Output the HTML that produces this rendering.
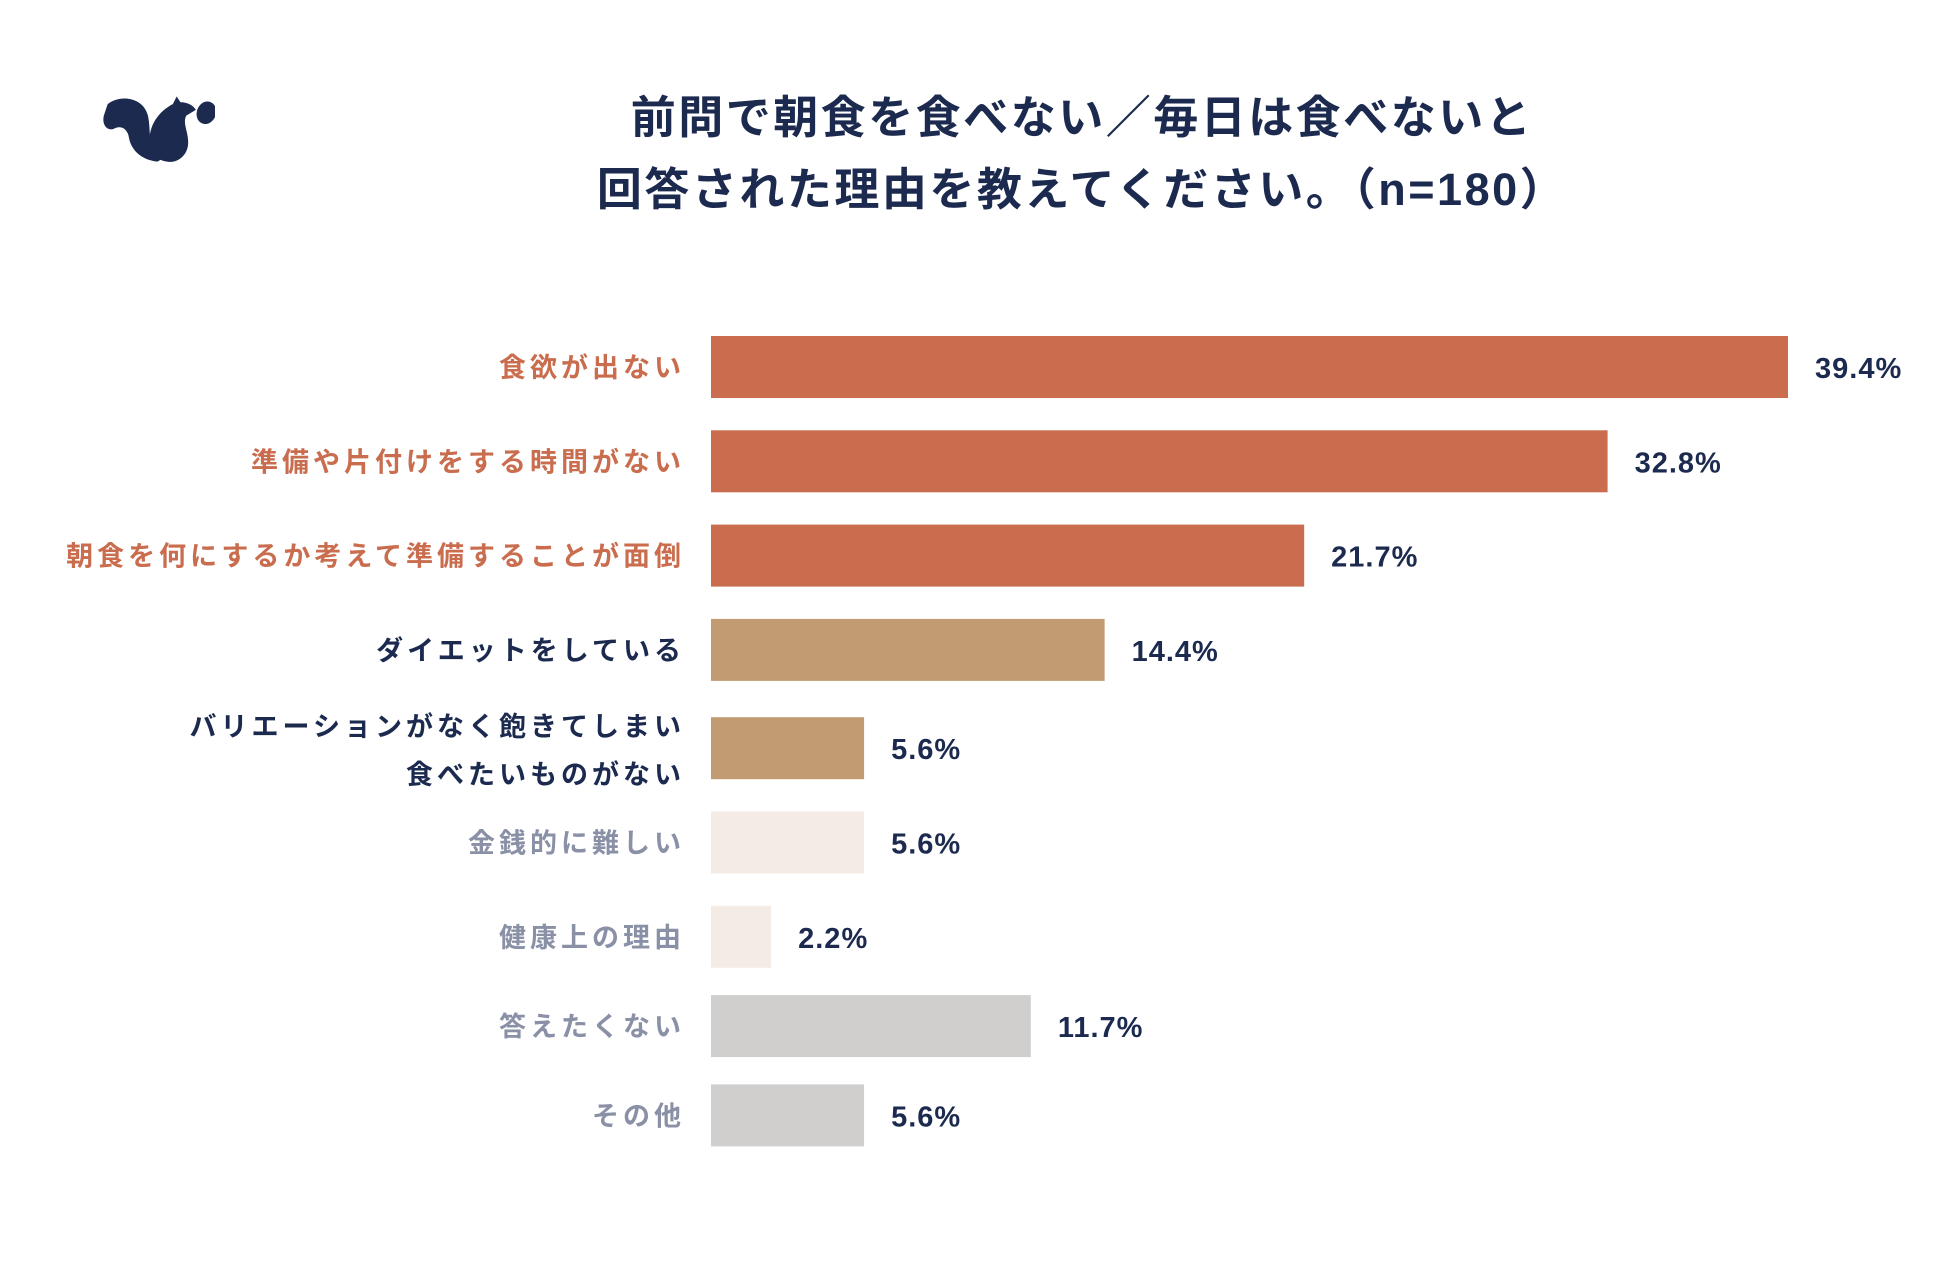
<!DOCTYPE html>
<html><head><meta charset="utf-8"><style>
html,body{margin:0;padding:0;background:#fff;}
body{width:1950px;height:1273px;position:relative;overflow:hidden;font-family:"Liberation Sans","Noto Sans CJK JP",sans-serif;}
.title{position:absolute;left:0;width:2164px;text-align:center;font-weight:bold;font-size:45px;color:#1B2A4E;letter-spacing:2.5px;}
</style></head><body>
<svg style="position:absolute;left:100px;top:95px" width="115" height="70" viewBox="0 0 120 70">
<path d="M8 8 C20 -2 45 0 50 20 C54 38 48 55 65 65 L60 68 C42 66 32 55 30 42 C28 32 20 30 14 34 C6 36 2 28 4 20 Z" fill="#1B2A4E"/>
<path d="M80 0 L84 6 C92 6 98 10 100 14 L90 20 C86 28 92 36 92 48 C92 62 80 70 70 68 C56 66 50 54 52 40 C54 26 64 14 76 8 Z" fill="#1B2A4E"/>
<ellipse cx="111" cy="17" rx="10" ry="12" transform="rotate(20 111 17)" fill="#1B2A4E"/>
</svg>
<div class="title" style="top:81px">前問で朝食を食べない／毎日は食べないと</div>
<div class="title" style="top:153px">回答された理由を教えてください。（n=180）</div>
<svg id="chart" style="position:absolute;left:0;top:0" width="1950" height="1273"></svg>
<script>
const categories=["食欲が出ない","準備や片付けをする時間がない","朝食を何にするか考えて準備することが面倒","ダイエットをしている","バリエーションがなく飽きてしまい|食べたいものがない","金銭的に難しい","健康上の理由","答えたくない","その他"];
const values=[39.4,32.8,21.7,14.4,5.6,5.6,2.2,11.7,5.6];
const valueLabels=["39.4%","32.8%","21.7%","14.4%","5.6%","5.6%","2.2%","11.7%","5.6%"];
const groups=["top","top","top","mid","mid","low","low","none","none"];
const barColor={top:"#C96D4E",mid:"#C39B72",low:"#F4EBE4",none:"#D0CFCE"};
const textColor={top:"#C96D4E",mid:"#1B2A4E",low:"#8A90A6",none:"#8A90A6"};
const NS="http://www.w3.org/2000/svg";
const svg=document.getElementById('chart');
const x0=711,pxPer=1077/39.4;
function xScale(v){return x0+v*pxPer;}
function yCenter(i){return 367+i*94.3+(i>=4?4:0)-(i>=7?(i-6)*5:0);}
categories.forEach((c,i)=>{
  const yc=yCenter(i),g=groups[i];
  const r=document.createElementNS(NS,'rect');
  r.setAttribute('x',x0);r.setAttribute('y',yc-31);
  r.setAttribute('width',xScale(values[i])-x0);r.setAttribute('height',62);
  r.setAttribute('fill',barColor[g]);
  
  
  svg.appendChild(r);
  const v=document.createElementNS(NS,'text');
  v.setAttribute('x',xScale(values[i])+27);v.setAttribute('y',yc+11);
  v.setAttribute('font-size','29');v.setAttribute('font-weight','bold');v.setAttribute('fill','#1B2A4E');
  v.setAttribute('letter-spacing','1');
  v.textContent=valueLabels[i];
  
  
  svg.appendChild(v);
  const lines=c.split('|');
  lines.forEach((ln,k)=>{
    const t=document.createElementNS(NS,'text');
    const dy=lines.length>1?(k===0?-22:26):0;
    t.setAttribute('x',685);t.setAttribute('y',yc+10+dy);
    t.setAttribute('text-anchor','end');t.setAttribute('font-size','27');t.setAttribute('font-weight','bold');
    t.setAttribute('letter-spacing','4');
    t.setAttribute('fill',textColor[g]);
    t.textContent=ln;
    
    
    svg.appendChild(t);
  });
});
</script>
</body></html>
